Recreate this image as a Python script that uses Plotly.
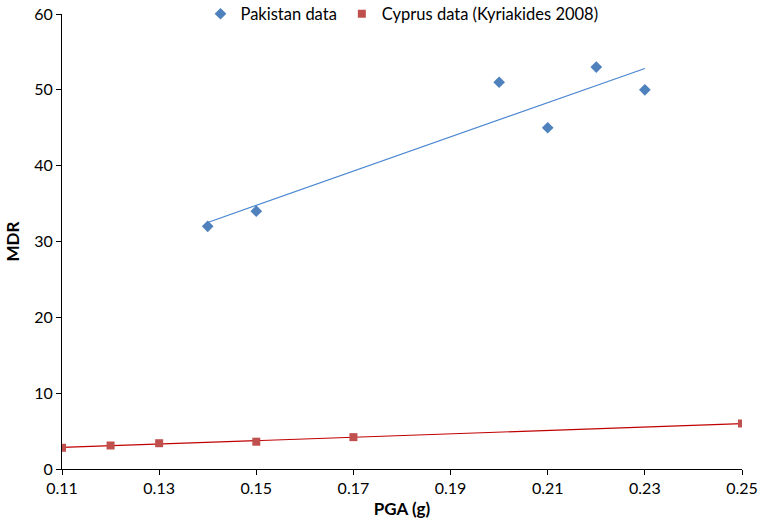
import numpy as np
import plotly.graph_objects as go

pak_x = [0.14, 0.15, 0.20, 0.21, 0.22, 0.23]
pak_y = [32, 34, 51, 45, 53, 50]
cyp_x = [0.11, 0.12, 0.13, 0.15, 0.17, 0.25]
cyp_y = [2.8, 3.1, 3.4, 3.6, 4.2, 6.0]
x_ticks = [0.11, 0.13, 0.15, 0.17, 0.19, 0.21, 0.23, 0.25]
y_ticks = [0, 10, 20, 30, 40, 50, 60]

FONT = "Lato, 'Open Sans', sans-serif"

def fit_line(xs, ys):
    m, b = np.polyfit(xs, ys, 1)
    lx = [min(xs), max(xs)]
    return lx, [m * v + b for v in lx]

fig = go.Figure()
plx, ply = fit_line(pak_x, pak_y)
clx, cly = fit_line(cyp_x, cyp_y)
fig.add_trace(go.Scatter(x=plx, y=ply, mode="lines", line=dict(color="#4A86D0", width=1.2),
                         showlegend=False, hoverinfo="skip"))
fig.add_trace(go.Scatter(x=clx, y=cly, mode="lines", line=dict(color="#C00000", width=1.2),
                         showlegend=False, hoverinfo="skip"))
fig.add_trace(go.Scatter(x=pak_x, y=pak_y, mode="markers", name="Pakistan data",
                         marker=dict(symbol="diamond", size=9, color="#4F81BD")))
fig.add_trace(go.Scatter(x=cyp_x, y=cyp_y, mode="markers", name="Cyprus data (Kyriakides 2008)",
                         marker=dict(symbol="square", size=8, color="#C0504D")))

fig.update_layout(
    width=763, height=526,
    margin=dict(l=62, r=21, t=14, b=57, autoexpand=False),
    paper_bgcolor="white", plot_bgcolor="white",
    font=dict(family=FONT, size=16, color="black"),
    legend=dict(orientation="h", x=0.5, xanchor="center", y=1, yanchor="middle",
                font=dict(size=16.5), bgcolor="rgba(255,255,255,0)", itemwidth=30,
                tracegroupgap=0),
    xaxis=dict(range=[0.11, 0.25], tickvals=x_ticks, ticktext=[f"{v:.2f}" for v in x_ticks],
               showgrid=False, zeroline=False, showline=True, linecolor="black", linewidth=1,
               ticks="outside", ticklen=5, tickcolor="black", automargin=False,
               title=dict(text="<b>PGA (g)</b>", font=dict(size=17), standoff=6)),
    yaxis=dict(range=[0, 60], tickvals=y_ticks, showgrid=False, zeroline=False,
               showline=True, linecolor="black", linewidth=1, automargin=False,
               ticks="outside", ticklen=5, tickcolor="black",
               title=dict(text="<b>MDR</b>", font=dict(size=17), standoff=10)),
)

fig.write_html("out.html")
